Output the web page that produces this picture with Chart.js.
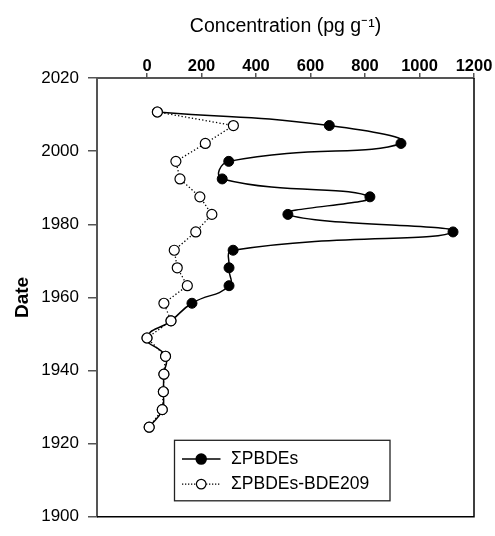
<!DOCTYPE html>
<html>
<head>
<meta charset="utf-8">
<script src="https://cdn.jsdelivr.net/npm/chart.js@4/dist/chart.umd.min.js"></script>
<style>
  html, body { margin: 0; padding: 0; background: #fff; }
  canvas { display: block; }
</style>
</head>
<body>
<canvas id="c" width="495" height="536"></canvas>
<script>
// ---- data ----
const years = [2010.7, 2007.0, 2002.1, 1997.2, 1992.4, 1987.5, 1982.7, 1977.9, 1972.9, 1968.1, 1963.2, 1958.4, 1953.6, 1948.9, 1943.9, 1939.0, 1934.2, 1929.3, 1924.5];
const totalPBDEs = [38, 669, 932, 300, 276, 818, 517, 1123, 316, 301, 301, 165, 88, 0, 68, 62, 60, 56, 8];
const pbdesNo209 = [38, 317, 214, 106, 121, 194, 238, 179, 100, 111, 148, 62, 88, 0, 68, 62, 60, 56, 8];
const seriesNames = ['\u03A3PBDEs', '\u03A3PBDEs-BDE209'];
const xTicks = [0, 200, 400, 600, 800, 1000, 1200];
const yTicks = [1900, 1920, 1940, 1960, 1980, 2000, 2020];
const xTitle = 'Concentration (pg g\u207B\u00B9)';
const yTitle = 'Date';

const FONT = "'Liberation Sans', Arial, sans-serif";

const pts = (vals) => vals.map((v, i) => ({ x: v, y: years[i] }));

const framePlugin = {
  id: 'frame',
  beforeDatasetsDraw(chart) {
    const { ctx, chartArea: a } = chart;
    ctx.save();
    ctx.strokeStyle = '#000';
    ctx.lineWidth = 1.5;
    ctx.beginPath();
    ctx.moveTo(a.right, a.top);
    ctx.lineTo(a.right, a.bottom);
    ctx.lineTo(a.left, a.bottom);
    ctx.stroke();
    ctx.restore();
  }
};

const legendPlugin = {
  id: 'boxLegend',
  afterDraw(chart) {
    const { ctx, chartArea: a } = chart;
    const left = a.left + 77.5, top = a.bottom - 76.5, w = 215.5, h = 60.5;
    ctx.save();
    ctx.fillStyle = '#fff';
    ctx.fillRect(left, top, w, h);
    ctx.strokeStyle = '#222';
    ctx.lineWidth = 1.3;
    ctx.strokeRect(left, top, w, h);
    const rows = [top + 18.8, top + 43.8];
    const x0 = left + 7.5, x1 = left + 46, cx = left + 26.7;
    ctx.strokeStyle = '#000';
    ctx.lineWidth = 1.5;
    ctx.setLineDash([]);
    ctx.beginPath(); ctx.moveTo(x0, rows[0]); ctx.lineTo(x1, rows[0]); ctx.stroke();
    ctx.beginPath(); ctx.arc(cx, rows[0], 5, 0, Math.PI * 2);
    ctx.fillStyle = '#000'; ctx.fill(); ctx.stroke();
    ctx.lineWidth = 1.2;
    ctx.setLineDash([1.3, 1.7]);
    ctx.beginPath(); ctx.moveTo(x0, rows[1]); ctx.lineTo(x1, rows[1]); ctx.stroke();
    ctx.setLineDash([]);
    ctx.beginPath(); ctx.arc(cx, rows[1], 4.8, 0, Math.PI * 2);
    ctx.fillStyle = '#fff'; ctx.fill(); ctx.stroke();
    ctx.fillStyle = '#000';
    ctx.font = '17.5px ' + FONT;
    ctx.textBaseline = 'middle';
    ctx.textAlign = 'left';
    ctx.fillText(seriesNames[0], left + 56.5, rows[0] + 0.5);
    ctx.fillText(seriesNames[1], left + 56.5, rows[1] + 0.5);
    ctx.restore();
  }
};

new Chart(document.getElementById('c'), {
  type: 'line',
  data: {
    datasets: [
      {
        label: seriesNames[1],
        data: pts(pbdesNo209),
        borderColor: '#000',
        borderWidth: 1.3,
        borderDash: [1.3, 2.2],
        tension: 0,
        pointRadius: 5,
        pointBackgroundColor: '#fff',
        pointBorderColor: '#000',
        pointBorderWidth: 1.2,
        order: 0
      },
      {
        label: seriesNames[0],
        data: pts(totalPBDEs),
        borderColor: '#000',
        borderWidth: 1.5,
        tension: 0.5,
        pointRadius: 5,
        pointBackgroundColor: '#000',
        pointBorderColor: '#000',
        pointBorderWidth: 1,
        order: 1
      }
    ]
  },
  options: {
    responsive: false,
    animation: false,
    devicePixelRatio: 1,
    layout: { padding: { top: 0, left: 0, right: 21, bottom: 5 } },
    plugins: {
      legend: { display: false },
      tooltip: { enabled: false }
    },
    scales: {
      x: {
        type: 'linear',
        position: 'top',
        min: -183.5,
        max: 1200,
        afterBuildTicks(scale) {
          scale.ticks = xTicks.map(v => ({ value: v }));
        },
        afterFit(scale) { scale.height = 78; },
        ticks: {
          color: '#000',
          padding: -2,
          callback: (v) => String(v),
          font: { family: FONT, size: 16.5, weight: 'bold', lineHeight: 1 },
          maxRotation: 0
        },
        grid: { drawOnChartArea: false, drawTicks: true, tickLength: 5, color: '#555', lineWidth: 1.5 },
        border: { display: true, color: '#555', width: 2 },
        title: {
          display: true,
          text: xTitle,
          color: '#000',
          font: { family: FONT, size: 19.5, lineHeight: 1.2 },
          padding: { top: 14.5, bottom: 0 }
        }
      },
      y: {
        type: 'linear',
        position: 'left',
        min: 1900,
        max: 2020,
        afterBuildTicks(scale) {
          scale.ticks = yTicks.map(v => ({ value: v }));
        },
        afterFit(scale) { scale.width = 97; },
        ticks: {
          color: '#000',
          padding: 9,
          callback: (v) => String(v),
          font: { family: FONT, size: 17 }
        },
        grid: { drawOnChartArea: false, drawTicks: true, tickLength: 9, color: '#555', lineWidth: 1.5 },
        border: { display: true, color: '#555', width: 2 },
        title: {
          display: true,
          text: yTitle,
          color: '#000',
          font: { family: FONT, size: 19, weight: 'bold', lineHeight: 1.2 },
          padding: { top: 11, bottom: 0 }
        }
      }
    }
  },
  plugins: [framePlugin, legendPlugin]
});
</script>
</body>
</html>
